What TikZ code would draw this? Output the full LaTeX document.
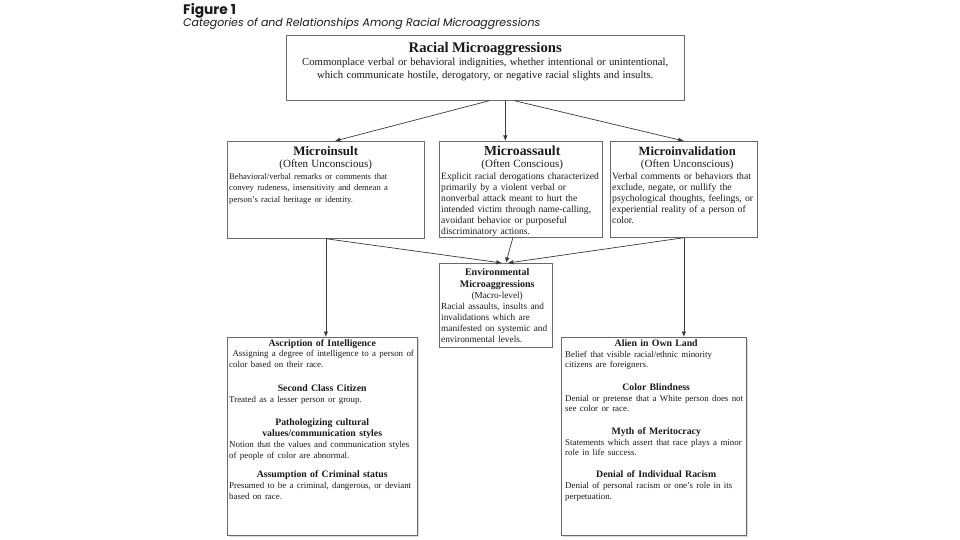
\documentclass[tikz,border=0pt]{standalone}
\usepackage{fontspec}
\setmainfont{Liberation Serif}
\newfontfamily\figfont{Poppins}
\usetikzlibrary{arrows.meta,calc,shadows}
\newcommand{\fsz}[2]{\fontsize{#1}{#2}\selectfont}
\definecolor{boxgray}{HTML}{6A6A6A}
\definecolor{linegray}{HTML}{3A3A3A}
\definecolor{textcol}{HTML}{1A1A1A}
\begin{document}
\begin{tikzpicture}[x=1pt,y=-1pt,
  box/.style={draw=boxgray, line width=0.7pt, anchor=north west, inner sep=0pt, fill=white},
  shbox/.style={box, drop shadow={shadow xshift=1.3pt, shadow yshift=-1.3pt, fill=gray!60}},
  txt/.style={anchor=base west, inner sep=0pt, align=left, text=textcol},
  conn/.style={draw=linegray, line width=0.7pt, -{Latex[length=5.5pt,width=4.5pt]}},
]
\useasboundingbox[fill=white] (0,0) rectangle (960,540);

% title
\node[txt, font=\figfont\bfseries\fsz{13.8}{15}] (fig) at (183,15) {Figure 1};
\node[txt, font=\figfont\itshape\fsz{11}{12}] (cap) at (183,27) {Categories of and Relationships Among Racial Microaggressions};

% boxes
\node[box, minimum width=398pt, minimum height=65pt] (top) at (286,35) {};
\node[box, minimum width=197pt, minimum height=97pt] (mi) at (227,141) {};
\node[box, minimum width=163pt, minimum height=96pt] (ma) at (439,141) {};
\node[box, minimum width=147pt, minimum height=96pt] (mv) at (610,141) {};
\node[box, minimum width=113pt, minimum height=84pt] (env) at (439,263) {};
\node[shbox, minimum width=190pt, minimum height=198pt] (lb) at (227,337) {};
\node[shbox, minimum width=185pt, minimum height=198pt] (rb) at (561,337) {};

% top text
\node[txt, text width=398pt, align=center] (toptext) at (286,53)
 {{\fsz{14.7}{16}\bfseries Racial Microaggressions\par}
  {\fsz{10.7}{13}Commonplace verbal or behavioral indignities, whether intentional or unintentional,\\
  which communicate hostile, derogatory, or negative racial slights and insults.\par}};

% Microinsult
\node[txt, text width=193pt] (mitext) at (229,156)
 {{\centering\fsz{13}{14}\bfseries Microinsult\par}
  {\centering\fsz{11}{12}(Often Unconscious)\par}
  {\fsz{8.6}{11.5}Behavioral/verbal remarks or comments that\\
  convey rudeness, insensitivity and demean a\\
  person's racial heritage or identity.\par}};

% Microassault
\node[txt, text width=162pt] (matext) at (441,156)
 {{\centering\fsz{13.8}{14}\bfseries Microassault\par}
  {\centering\fsz{11}{12}(Often Conscious)\par}
  {\fsz{9.6}{11.1}Explicit racial derogations characterized\\
  primarily by a violent verbal or\\
  nonverbal attack meant to hurt the\\
  intended victim through name-calling,\\
  avoidant behavior or purposeful\\
  discriminatory actions.\par}};

% Microinvalidation
\node[txt, text width=150pt] (mvtext) at (612,156)
 {{\centering\fsz{12.6}{14}\bfseries Microinvalidation\par}
  {\centering\fsz{11}{12}(Often Unconscious)\par}
  {\fsz{9.7}{11.2}Verbal comments or behaviors that\\
  exclude, negate, or nullify the\\
  psychological thoughts, feelings, or\\
  experiential reality of a person of\\
  color.\par}};

% Environmental
\node[txt, text width=112pt] (envtext) at (441,275)
 {{\centering\fsz{10}{12}\bfseries Environmental\\ Microaggressions\par}
  {\centering\fsz{9.2}{11.5}(Macro-level)\par}
  {\fsz{9.3}{11}Racial assaults, insults and\\
  invalidations which are\\
  manifested on systemic and\\
  environmental levels.\par}};

% Left bottom sections
\node[txt, text width=186pt] (l1) at (229,346)
 {{\centering\fsz{9.8}{12}\bfseries Ascription of Intelligence\par}
  {\fsz{8.9}{10.6}\ Assigning a degree of intelligence to a person of\\ color based on their race.\par}};
\node[txt, text width=186pt] (l2) at (229,391.5)
 {{\centering\fsz{9.8}{12}\bfseries Second Class Citizen\par}
  {\fsz{8.9}{10.6}Treated as a lesser person or group.\par}};
\node[txt, text width=186pt] (l3) at (229,425.5)
 {{\centering\fsz{9.8}{11}\bfseries Pathologizing cultural\\ values/communication styles\par}
  {\fsz{8.9}{11.2}Notion that the values and communication styles\\[-0.6pt] of people of color are abnormal.\par}};
\node[txt, text width=186pt] (l4) at (229,477.5)
 {{\centering\fsz{9.8}{12}\bfseries Assumption of Criminal status\par}
  {\fsz{8.9}{11}Presumed to be a criminal, dangerous, or deviant\\ based on race.\par}};

% Right bottom sections
\node[txt, text width=182pt] (r1) at (565,346.5)
 {{\centering\fsz{9.8}{12}\bfseries Alien in Own Land\par}
  {\fsz{8.9}{10.6}Belief that visible racial/ethnic minority\\ citizens are foreigners.\par}};
\node[txt, text width=182pt] (r2) at (565,390.5)
 {{\centering\fsz{9.8}{12}\bfseries Color Blindness\par}
  {\fsz{8.9}{10.6}Denial or pretense that a White person does not\\ see color or race.\par}};
\node[txt, text width=182pt] (r3) at (565,434.5)
 {{\centering\fsz{9.8}{12}\bfseries Myth of Meritocracy\par}
  {\fsz{8.9}{10.6}Statements which assert that race plays a minor\\ role in life success.\par}};
\node[txt, text width=182pt] (r4) at (565,477.5)
 {{\centering\fsz{9.8}{12}\bfseries Denial of Individual Racism\par}
  {\fsz{8.9}{11}Denial of personal racism or one's role in its\\ perpetuation.\par}};

% connectors
\draw[conn] ($(top.south)+(4,0)$) -- ($(mi.north)+(9,0)$);
\draw[conn] ($(top.south)+(20,0)$) -- ($(ma.north)+(-15.5,0)$);
\draw[conn] ($(top.south)+(29,0)$) -- (mv.north);
\draw[conn] (mi.south) -- ($(env.north)+(6,0)$);
\draw[conn] ($(ma.south)+(-8,0)$) -- ($(env.north)+(10,0)$);
\draw[conn] (mv.south) -- ($(env.north)+(12,0)$);
\draw[conn] (mi.south) -- (mi.south |- lb.north);
\draw[conn] (mv.south) -- (mv.south |- rb.north);
\end{tikzpicture}
\end{document}
